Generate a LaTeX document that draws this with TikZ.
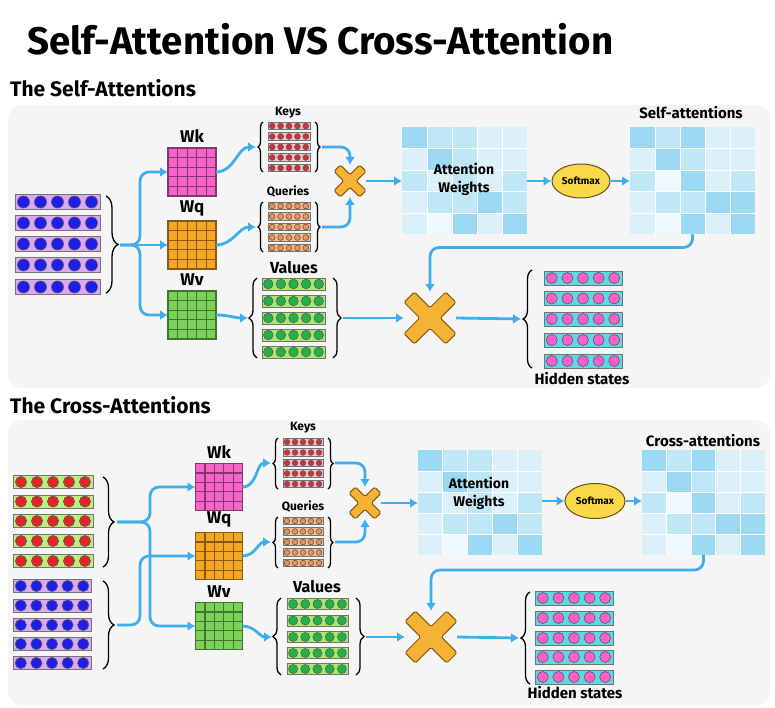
\documentclass[tikz,border=0pt]{standalone}
\usepackage{fontspec}
\setmainfont{Fira Sans}
\usetikzlibrary{calc,positioning,shapes.geometric,arrows.meta,decorations.pathreplacing}

\definecolor{flowblue}{HTML}{3FAEEF}
\definecolor{panelgray}{HTML}{F5F5F5}
\definecolor{lavender}{HTML}{DBA8F2}
\definecolor{limebg}{HTML}{BDEE7E}
\definecolor{dotblue}{HTML}{1E1EE6}
\definecolor{dotred}{HTML}{E02626}
\definecolor{keybg}{HTML}{F4C0C6}
\definecolor{keydot}{HTML}{D62C3C}
\definecolor{qrybg}{HTML}{F5BC8E}
\definecolor{qrydot}{HTML}{EE9455}
\definecolor{valbg}{HTML}{A8E86C}
\definecolor{valdot}{HTML}{26B04A}
\definecolor{hidbg}{HTML}{5ED8E6}
\definecolor{hiddot}{HTML}{FF5FC8}
\definecolor{wkpink}{HTML}{F564C8}
\definecolor{wqorange}{HTML}{F5A623}
\definecolor{wvgreen}{HTML}{7AD25A}
\definecolor{xgold}{HTML}{F5B335}
\definecolor{xedge}{HTML}{8A5A10}
\definecolor{smyellow}{HTML}{F9D94A}
\definecolor{smedge}{HTML}{6A5010}
\definecolor{att0}{HTML}{EFF8FC}
\definecolor{att1}{HTML}{DCF0F9}
\definecolor{att2}{HTML}{C0E7F6}
\definecolor{att3}{HTML}{9CD9F2}

\tikzset{
	flow/.style={draw=flowblue, line width=2.8pt, rounded corners=9pt, -{Latex[length=8pt,width=10pt]}},
	brc/.style={decorate, decoration={brace, amplitude=#1}, line width=1.3pt},
	lbl/.style={font=\bfseries\fontsize{#1}{#1}\selectfont, inner sep=0pt},
	panel/.style={fill=panelgray, rounded corners=14pt},
}

% one token vector: name, x, y, width, height, background, dot colour, dot radius
\newcommand{\tokrow}[8]{%
	\node[draw=black!55, fill=#6, line width=0.8pt, minimum width=#4pt, minimum height=#5pt, inner sep=0pt, outer sep=0pt] (#1) at (#2,#3) {};
	\foreach \k in {0,...,4}
		\filldraw[fill=#7, draw=black!65, line width=0.6pt] ($(#1.west)+({(\k+0.5)*#4/5},0)$) circle (#8pt);
}
% 5x5 weight matrix: name, x, y, size, colour
\newcommand{\wmat}[5]{%
	\node[draw=#5!55!black, fill=#5, line width=1.2pt, minimum size=#4pt, inner sep=0pt, outer sep=0pt] (#1) at (#2,#3) {};
	\foreach \k in {1,...,4} {
		\draw[#5!55!black, line width=1.2pt] ($(#1.north west)+({\k*#4/5},0)$) -- ($(#1.south west)+({\k*#4/5},0)$);
		\draw[#5!55!black, line width=1.2pt] ($(#1.north west)+(0,{\k*#4/5})$) -- ($(#1.north east)+(0,{\k*#4/5})$);
	}
}
% 5x5 attention map: name, x, y, width, height, levels
\newcommand{\amat}[6]{%
	\node[minimum width=#4pt, minimum height=#5pt, inner sep=0pt, outer sep=0pt] (#1) at (#2,#3) {};
	\foreach \lv [count=\i from 0] in {#6} {
		\pgfmathtruncatemacro\cc{mod(\i,5)}
		\pgfmathtruncatemacro\rr{\i/5}
		\fill[fill=att\lv] ($(#1.north west)+({\cc*#4/5},{\rr*#5/5})$) rectangle ++({#4/5},{#5/5});
	}
	\foreach \k in {1,...,4} {
		\draw[white, line width=0.8pt] ($(#1.north west)+({\k*#4/5},0)$) -- ($(#1.south west)+({\k*#4/5},0)$);
		\draw[white, line width=0.8pt] ($(#1.north west)+(0,{\k*#5/5})$) -- ($(#1.north east)+(0,{\k*#5/5})$);
	}
}
% multiply sign: name, x, y, size
\newcommand{\mulx}[4]{%
	\node[minimum size=#4pt, inner sep=0pt, outer sep=0pt] (#1) at (#2,#3) {};
	\pgfmathsetmacro\armb{#4*0.14}
	\pgfmathsetmacro\arma{#4*0.707-\armb}
	\begin{scope}[shift={(#1)}, rotate=45]
		\filldraw[fill=xgold, draw=xedge, line width=1pt, rounded corners=1.5pt] (-\armb,-\arma) -- (\armb,-\arma) -- (\armb,-\armb) -- (\arma,-\armb) -- (\arma,\armb) -- (\armb,\armb) -- (\armb,\arma) -- (-\armb,\arma) -- (-\armb,\armb) -- (-\arma,\armb) -- (-\arma,-\armb) -- (-\armb,-\armb) -- cycle;
	\end{scope}
}

\begin{document}
\begin{tikzpicture}[x=1pt, y=-1pt]
		\useasboundingbox (0,0) rectangle (775,708);
		
		%%%%% TITLE %%%%%
		\node[lbl=38.5, anchor=base west] (title) at (27,55) {Self-Attention VS Cross-Attention};
		\node[lbl=21, anchor=base west] (selfhead) at (10,97) {The Self-Attentions};
		\node[lbl=21, anchor=base west] (crosshead) at (10,413) {The Cross-Attentions};
		
		\fill[panel] (8,105) rectangle (770,388);
		\fill[panel] (8,420) rectangle (770,705);
		
		%%%%% SELF %%%%%
		
		\foreach \y [count=\n] in {202,223,244,265,287}
			\tokrow{sin\n}{57.5}{\y}{85}{15}{lavender}{dotblue}{6};
		\draw[brc=12pt] (106,196) -- (106,293);
		\coordinate (sinb) at (120,245);
		
		\wmat{swk}{192}{172}{48}{wkpink}
		\wmat{swq}{192}{245}{48}{wqorange}
		\wmat{swv}{192}{315}{48}{wvgreen}
		\node[lbl=17, above=5pt of swk] (swkt) {Wk};
		\node[lbl=17, above=5pt of swq] (swqt) {Wq};
		\node[lbl=17, above=5pt of swv] (swvt) {Wv};
		
		\foreach \y [count=\n] in {126,136.5,147,157.5,168}
			\tokrow{skey\n}{289}{\y}{42}{7.5}{keybg}{keydot}{2.9};
		\draw[brc=5pt] (263,172) -- (263,122);
		\draw[brc=5pt] (315,122) -- (315,172);
		\coordinate (skL) at (256,147);
		\coordinate (skR) at (322,147);
		\node[lbl=12] (skeyt) at (288,113) {Keys};
		
		\foreach \y [count=\n] in {206,216.5,227,237.5,248}
			\tokrow{sqry\n}{289}{\y}{42}{7.5}{qrybg}{qrydot}{2.9};
		\draw[brc=5pt] (263,252) -- (263,202);
		\draw[brc=5pt] (315,202) -- (315,252);
		\coordinate (sqL) at (256,227);
		\coordinate (sqR) at (322,227);
		\node[lbl=12] (sqryt) at (288,192) {Queries};
		
		\foreach \y [count=\n] in {284,301,318,335,352}
			\tokrow{sval\n}{293.5}{\y}{63}{12}{valbg}{valdot}{4.8};
		\draw[brc=8pt] (257,358) -- (257,278);
		\draw[brc=8pt] (333,278) -- (333,358);
		\coordinate (svL) at (248,318);
		\coordinate (svR) at (343,318);
		\node[lbl=16] (svalt) at (294,268) {Values};
		
		\mulx{ssx}{350}{181}{32}
		\amat{saw}{464.5}{181}{125}{107}{3,2,2,1,1, 1,3,2,1,1, 2,1,2,1,2, 1,2,2,3,2, 1,0,3,1,3}
		\node[align=center, inner sep=0pt, font=\bfseries\fontsize{14}{18}\selectfont] (sawt) at (464,179) {Attention\\Weights};
		\node[ellipse, draw=smedge, fill=smyellow, line width=1pt, minimum width=58pt, minimum height=34pt, inner sep=0pt, font=\bfseries\fontsize{10}{10}\selectfont] (ssm) at (581,181) {Softmax};
		\amat{ssa}{692.5}{181}{125}{107}{3,2,3,1,1, 1,3,2,1,1, 2,0,3,1,2, 1,2,2,3,3, 1,0,3,1,3}
		\node[lbl=15] (ssat) at (691,113) {Self-attentions};
		
		\mulx{sbx}{430}{318}{52}
		\foreach \y [count=\n] in {278,298.5,319,340,361}
			\tokrow{shid\n}{583}{\y}{78}{14}{hidbg}{hiddot}{5.5};
		\draw[brc=9pt] (532,368) -- (532,270);
		\coordinate (shL) at (521,319);
		\node[lbl=15] (shidt) at (582,379) {Hidden states};
		
		\draw[flow] (sinb) -- (swq);
		\draw[flow] (sinb) -- ++(20,0) |- (swk);
		\draw[flow] (sinb) -- ++(20,0) |- (swv);
		\draw[flow] (swk.east) to[out=0, in=180] (skL);
		\draw[flow] (swq.east) to[out=0, in=180] (sqL);
		\draw[flow] (swv.east) to[out=0, in=180] (svL);
		\draw[flow] (skR) -| (ssx.north);
		\draw[flow] (sqR) -| (ssx.south);
		\draw[flow] (ssx.east) -- (saw.west);
		\draw[flow] (saw.east) -- (ssm.west);
		\draw[flow] (ssm.east) -- (ssa.west);
		\draw[flow] (ssa.south) -- ++(0,13) -| (sbx.north);
		\draw[flow] (svR) -- (sbx.west);
		\draw[flow] (sbx.east) -- (shL);
		
		%%%%% CROSS %%%%%
		
		\foreach \y [count=\n] in {482,501.5,521,541,561}
			\tokrow{cina\n}{53}{\y}{80}{13}{limebg}{dotred}{5.6};
		\foreach \y [count=\n] in {586,605.5,625,644,663}
			\tokrow{cinb\n}{52}{\y}{78}{13}{lavender}{dotblue}{5.6};
		\draw[brc=11pt] (103,477) -- (103,567);
		\draw[brc=11pt] (103,581) -- (103,669);
		\coordinate (cinA) at (117,522);
		\coordinate (cinB) at (117,625);
		
		\wmat{cwk}{219}{487}{47}{wkpink}
		\wmat{cwq}{219}{556}{47}{wqorange}
		\wmat{cwv}{219}{626}{47}{wvgreen}
		\node[lbl=17, above=5pt of cwk] (cwkt) {Wk};
		\node[lbl=17, above=5pt of cwq] (cwqt) {Wq};
		\node[lbl=17, above=5pt of cwv] (cwvt) {Wv};
		
		\foreach \y [count=\n] in {442,452.5,463,473.5,484}
			\tokrow{ckey\n}{303}{\y}{40}{7.5}{keybg}{keydot}{2.8};
		\draw[brc=5pt] (278,489) -- (278,438);
		\draw[brc=5pt] (328,438) -- (328,489);
		\coordinate (ckL) at (271,463);
		\coordinate (ckR) at (335,463);
		\node[lbl=12] (ckeyt) at (303,428) {Keys};
		
		\foreach \y [count=\n] in {521,531.5,542,552.5,563}
			\tokrow{cqry\n}{303}{\y}{40}{7.5}{qrybg}{qrydot}{2.8};
		\draw[brc=5pt] (278,568) -- (278,517);
		\draw[brc=5pt] (328,517) -- (328,568);
		\coordinate (cqL) at (271,542);
		\coordinate (cqR) at (335,542);
		\node[lbl=12] (cqryt) at (303,507) {Queries};
		
		\foreach \y [count=\n] in {604,620.5,637,653,669}
			\tokrow{cval\n}{317.5}{\y}{61}{11}{valbg}{valdot}{4.5};
		\draw[brc=8pt] (281,675) -- (281,598);
		\draw[brc=8pt] (356,598) -- (356,675);
		\coordinate (cvL) at (272,637);
		\coordinate (cvR) at (366,637);
		\node[lbl=16] (cvalt) at (317,587) {Values};
		
		\mulx{csx}{365}{503}{32}
		\amat{caw}{480}{502.5}{124}{105}{3,2,2,1,1, 1,3,2,1,1, 2,1,2,1,2, 1,2,2,3,2, 1,0,3,1,3}
		\node[align=center, inner sep=0pt, font=\bfseries\fontsize{14}{18}\selectfont] (cawt) at (479,493) {Attention\\Weights};
		\node[ellipse, draw=smedge, fill=smyellow, line width=1pt, minimum width=60pt, minimum height=35pt, inner sep=0pt, font=\bfseries\fontsize{10}{10}\selectfont] (csm) at (595,501) {Softmax};
		\amat{cca}{703.5}{502.5}{123}{105}{3,2,3,1,1, 1,3,2,1,1, 2,0,3,1,2, 1,2,2,3,3, 1,0,3,1,3}
		\node[lbl=15] (ccat) at (703,441) {Cross-attentions};
		
		\mulx{cbx}{431}{637}{52}
		\foreach \y [count=\n] in {598,618,638,657,677}
			\tokrow{chid\n}{574}{\y}{78}{14}{hidbg}{hiddot}{5.5};
		\draw[brc=9pt] (530,684) -- (530,592);
		\coordinate (chL) at (519,638);
		\node[lbl=15] (chidt) at (575,693) {Hidden states};
		
		\draw[flow] (cinA) -- ++(33,0) |- (cwk);
		\draw[flow] (cinA) -- ++(33,0) |- (cwv);
		\draw[flow] (cinB) -- ++(23,0) |- (cwq);
		\draw[flow] (cwk.east) to[out=0, in=180] (ckL);
		\draw[flow] (cwq.east) to[out=0, in=180] (cqL);
		\draw[flow] (cwv.east) to[out=0, in=180] (cvL);
		\draw[flow] (ckR) -| (csx.north);
		\draw[flow] (cqR) -| (csx.south);
		\draw[flow] (csx.east) -- (caw.west |- csx);
		\draw[flow] (caw.east |- csm) -- (csm.west);
		\draw[flow] (csm.east) -- (cca.west |- csm);
		\draw[flow] (cca.south) -- ++(0,15) -| (cbx.north);
		\draw[flow] (cvR) -- (cbx.west);
		\draw[flow] (cbx.east) -- (chL);
		
		%%%%% END %%%%%
\end{tikzpicture}
\end{document}
